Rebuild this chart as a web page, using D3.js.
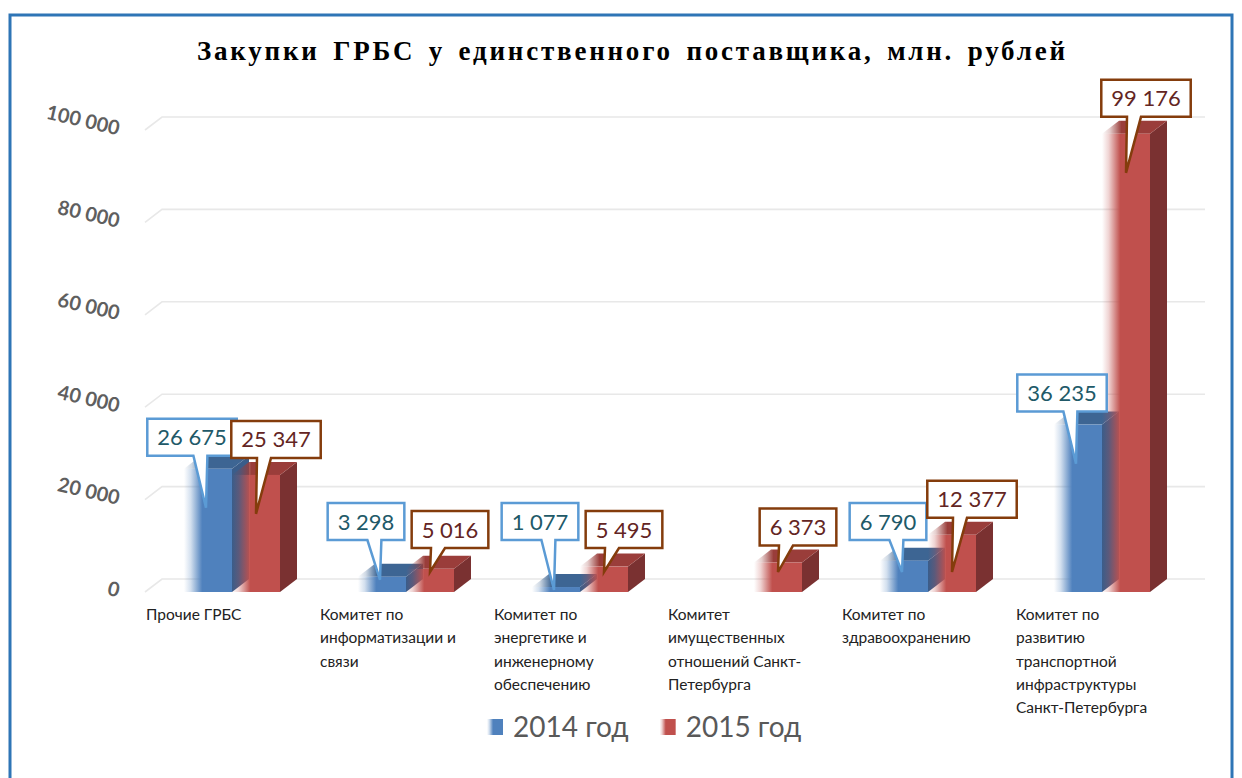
<!DOCTYPE html>
<html>
<head>
<meta charset="utf-8">
<script src="https://cdn.jsdelivr.net/npm/d3@7"></script>
<style>
    body { margin: 0; background: #fff; }
    svg { display: block; }
</style>
</head>
<body>
<div id="chart"></div>
<script>
// data
const categories = [
    "Прочие ГРБС",
    "Комитет по\nинформатизации и\nсвязи",
    "Комитет по\nэнергетике и\nинженерному\nобеспечению",
    "Комитет\nимущественных\nотношений Санкт-\nПетербурга",
    "Комитет по\nздравоохранению",
    "Комитет по\nразвитию\nтранспортной\nинфраструктуры\nСанкт-Петербурга"
];
const seriesNames = ["2014 год", "2015 год"];
const values2014 = [26675, 3298, 1077, null, 6790, 36235];
const values2015 = [25347, 5016, 5495, 6373, 12377, 99176];
const yTicks = [0, 20000, 40000, 60000, 80000, 100000];
const title = "Закупки ГРБС у единственного поставщика, млн. рублей";

const width = 1242, height = 778;
const DX = 17, DY = -13;   // 3d depth offset
const barW = 48;

const colors = [
    { front: "#4f81bd", top: "#3d6593", side: "#3a5d8a", stroke: "#5b9bd5", text: "#215968" },
    { front: "#c0504d", top: "#9a3d3a", side: "#7a3131", stroke: "#843c0c", text: "#632523" }
];

const fmt = d3.formatLocale({ decimal: ",", thousands: " ", grouping: [3], currency: ["", ""] }).format(",d");

const svg = d3.select("#chart").append("svg")
    .attr("width", width)
    .attr("height", height);

// gradients: bars fade out on their left side
const defs = svg.append("defs");
colors.forEach((c, s) => {
    ["front", "top"].forEach(part => {
        const g = defs.append("linearGradient")
            .attr("id", "grad-" + s + "-" + part)
            .attr("x1", 0).attr("x2", 1).attr("y1", 0).attr("y2", 0);
        g.append("stop").attr("offset", 0).attr("stop-color", c[part]).attr("stop-opacity", 0);
        g.append("stop").attr("offset", part == "top" ? 0.12 : 0.14).attr("stop-color", c[part]).attr("stop-opacity", 0.25);
        g.append("stop").attr("offset", part == "top" ? 0.3 : 0.38).attr("stop-color", c[part]).attr("stop-opacity", 1);
        g.append("stop").attr("offset", 1).attr("stop-color", c[part]).attr("stop-opacity", 1);
    });
});

// frame
svg.append("rect")
    .attr("x", 10).attr("y", 15)
    .attr("width", 1222).attr("height", 800)
    .attr("fill", "none")
    .attr("stroke", "#2e75b6")
    .attr("stroke-width", 3);

// title, letters spread out to the original width
const titleText = svg.append("text")
    .attr("x", 197).attr("y", 60)
    .style("font-family", "'Liberation Serif', 'Times New Roman', serif")
    .style("font-weight", "bold")
    .style("font-size", "27px")
    .style("word-spacing", "4px")
    .style("fill", "#000")
    .text(title);
const natural = titleText.node().getComputedTextLength();
titleText.style("letter-spacing", Math.max(0, (868 - natural) / (title.length - 1)) + "px");

// scales
const x = d3.scaleBand()
    .domain(categories)
    .range([145, 145 + 174 * categories.length])
    .padding(0);

const y = d3.scaleLinear()
    .domain([0, 100000])
    .range([592, 130]);

const plotRight = 1205;

// gridlines on the back wall
svg.append("g")
    .selectAll("path")
    .data(yTicks)
    .enter()
    .append("path")
        .attr("d", d => `M${x.range()[0]},${y(d)}L${x.range()[0] + DX},${y(d) + DY}H${plotRight}`)
        .attr("fill", "none")
        .attr("stroke", "#e8e8e8")
        .attr("stroke-width", 1.6);

// y axis, tilted labels
const yAxis = svg.append("g")
    .attr("transform", "translate(119,0)")
    .call(d3.axisLeft(y).tickValues(yTicks).tickSize(0).tickPadding(0).tickFormat(fmt));
yAxis.select(".domain").remove();
yAxis.selectAll("text")
    .attr("x", 0)
    .attr("dy", 5)
    .attr("transform", "rotate(13)")
    .attr("text-anchor", "end")
    .style("font-family", "Lato, 'Open Sans', sans-serif")
    .style("font-size", "20px")
    .style("font-weight", "bold")
    .style("fill", "#5f5f5f");

// bars
const bars = [];
categories.forEach((cat, i) => {
    [values2014[i], values2015[i]].forEach((v, s) => {
        if (v == null) return;
        bars.push({ cat: cat, i: i, s: s, v: v });
    });
});

const barG = svg.append("g");
bars.forEach(d => {
    const c = x(d.cat) + x.bandwidth() / 2;
    const x0 = d.s === 0 ? c - barW : c;
    const x1 = x0 + barW;
    const yt = y(d.v), yb = y(0);
    const g = barG.append("g");
    // side
    g.append("path")
        .attr("d", `M${x1},${yt}L${x1 + DX},${yt + DY}L${x1 + DX},${yb + DY}L${x1},${yb}Z`)
        .attr("fill", colors[d.s].side);
    // top
    g.append("path")
        .attr("d", `M${x0},${yt}L${x1},${yt}L${x1 + DX},${yt + DY}L${x0 + DX},${yt + DY}Z`)
        .attr("fill", `url(#grad-${d.s}-top)`);
    // front
    g.append("rect")
        .attr("x", x0).attr("y", yt)
        .attr("width", barW).attr("height", yb - yt)
        .attr("fill", `url(#grad-${d.s}-front)`);
});

// callout labels
const labelG = svg.append("g");
bars.forEach(d => {
    const c = x(d.cat) + x.bandwidth() / 2;
    const yt = y(d.v), yb = y(0);
    const h = yb - yt;
    const col = colors[d.s];
    const tipX = d.s === 0 ? c - 26 : c + 24;
    const tipY = yt + Math.max(3, Math.min(h - 20, 39));
    const boxC = d.s === 0 ? c - 40 : c + 44;
    const boxBottom = d.s === 0 ? Math.min(yt - 13, 540) : Math.min(yt - 17, 548);
    const bh = 37;

    const g = labelG.append("g");
    const path = g.append("path");
    const t = g.append("text")
        .attr("x", boxC)
        .attr("y", boxBottom - bh / 2 + 8)
        .attr("text-anchor", "middle")
        .style("font-family", "Lato, 'Open Sans', sans-serif")
        .style("font-size", "22px")
        .style("fill", col.text)
        .text(fmt(d.v));
    const tw = t.node().getComputedTextLength();
    const bw = tw + 20;
    const bx = boxC - bw / 2, by = boxBottom - bh;
    let bc = boxC + (tipX - boxC) * 0.6;
    bc = Math.max(bx + 12, Math.min(bx + bw - 12, bc));
    path.attr("d", `M${bx},${by}H${bx + bw}V${boxBottom}H${bc + 7}L${tipX},${tipY}L${bc - 7},${boxBottom}H${bx}Z`)
        .attr("fill", "#fff")
        .attr("stroke", col.stroke)
        .attr("stroke-width", 2.5)
        .attr("stroke-linejoin", "miter");
});

// category labels
const catG = svg.append("g");
categories.forEach(cat => {
    const t = catG.append("text")
        .attr("x", x(cat) + 1)
        .attr("y", 620)
        .style("font-family", "Lato, 'Open Sans', sans-serif")
        .style("font-size", "15.5px")
        .style("fill", "#222");
    cat.split("\n").forEach((line, k) => {
        t.append("tspan")
            .attr("x", x(cat) + 1)
            .attr("dy", k === 0 ? 0 : 23.3)
            .text(line);
    });
});

// legend
const legend = svg.append("g").attr("transform", "translate(487,719)");
let lx = 0;
seriesNames.forEach((name, s) => {
    const item = legend.append("g").attr("transform", `translate(${lx},0)`);
    item.append("rect")
        .attr("width", 16).attr("height", 16)
        .attr("fill", `url(#grad-${s}-front)`);
    const t = item.append("text")
        .attr("x", 26).attr("y", 18)
        .style("font-family", "Lato, 'Open Sans', sans-serif")
        .style("font-size", "28px")
        .style("fill", "#595959")
        .text(name);
    lx += 26 + t.node().getComputedTextLength() + 31;
});
</script>
</body>
</html>
